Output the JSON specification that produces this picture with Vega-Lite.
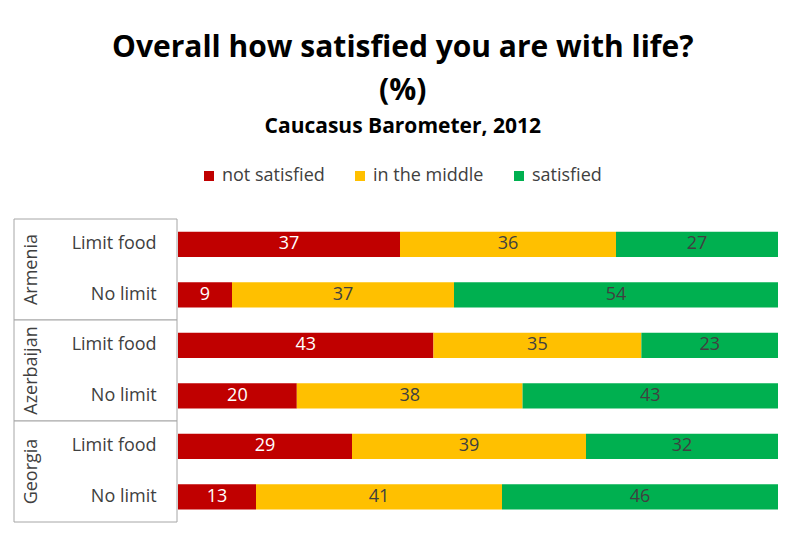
{
  "$schema": "https://vega.github.io/schema/vega-lite/v6.json",
  "background": "white",
  "padding": {"left": 13, "right": 23, "top": 33, "bottom": 22},
  "title": {
    "text": ["Overall how satisfied you are with life?", "(%)"],
    "subtitle": "Caucasus Barometer, 2012",
    "anchor": "middle",
    "dx": 7,
    "font": "Open Sans",
    "fontSize": 30,
    "fontWeight": "bold",
    "color": "black",
    "lineHeight": 43,
    "subtitleFont": "Open Sans",
    "subtitleFontSize": 21,
    "subtitleFontWeight": "bold",
    "subtitleColor": "black",
    "subtitlePadding": 10,
    "offset": 30
  },
  "data": {
    "values": [
      {"country": "Armenia", "group": "Limit food", "resp": "not satisfied", "pct": 37},
      {"country": "Armenia", "group": "Limit food", "resp": "in the middle", "pct": 36},
      {"country": "Armenia", "group": "Limit food", "resp": "satisfied", "pct": 27},
      {"country": "Armenia", "group": "No limit", "resp": "not satisfied", "pct": 9},
      {"country": "Armenia", "group": "No limit", "resp": "in the middle", "pct": 37},
      {"country": "Armenia", "group": "No limit", "resp": "satisfied", "pct": 54},
      {"country": "Azerbaijan", "group": "Limit food", "resp": "not satisfied", "pct": 43},
      {"country": "Azerbaijan", "group": "Limit food", "resp": "in the middle", "pct": 35},
      {"country": "Azerbaijan", "group": "Limit food", "resp": "satisfied", "pct": 23},
      {"country": "Azerbaijan", "group": "No limit", "resp": "not satisfied", "pct": 20},
      {"country": "Azerbaijan", "group": "No limit", "resp": "in the middle", "pct": 38},
      {"country": "Azerbaijan", "group": "No limit", "resp": "satisfied", "pct": 43},
      {"country": "Georgia", "group": "Limit food", "resp": "not satisfied", "pct": 29},
      {"country": "Georgia", "group": "Limit food", "resp": "in the middle", "pct": 39},
      {"country": "Georgia", "group": "Limit food", "resp": "satisfied", "pct": 32},
      {"country": "Georgia", "group": "No limit", "resp": "not satisfied", "pct": 13},
      {"country": "Georgia", "group": "No limit", "resp": "in the middle", "pct": 41},
      {"country": "Georgia", "group": "No limit", "resp": "satisfied", "pct": 46}
    ]
  },
  "spacing": 0,
  "hconcat": [
    {
      "width": 163,
      "height": 303,
      "transform": [{"filter": "datum.resp == 'satisfied'"}],
      "layer": [
        {
          "transform": [{"filter": "datum.group == 'Limit food'"}],
          "mark": {"type": "bar", "fill": "white", "stroke": "#a6a6a6", "strokeWidth": 1},
          "encoding": {
            "y": {"field": "country", "type": "nominal", "axis": null, "scale": {"type": "band", "paddingInner": 0, "paddingOuter": 0}},
            "x": {"datum": 1, "type": "quantitative", "scale": {"domain": [0, 1], "nice": false}, "axis": null}
          }
        },
        {
          "transform": [{"filter": "datum.group == 'Limit food'"}],
          "mark": {"type": "text", "angle": 270, "fontSize": 18, "color": "#404040", "font": "Open Sans"},
          "encoding": {
            "y": {"field": "country", "type": "nominal", "axis": null, "scale": {"type": "band", "paddingInner": 0, "paddingOuter": 0}},
            "x": {"datum": 0.11, "type": "quantitative", "scale": {"domain": [0, 1], "nice": false}, "axis": null},
            "text": {"field": "country"}
          }
        },
        {
          "mark": {"type": "text", "align": "right", "fontSize": 18, "color": "#404040", "font": "Open Sans"},
          "encoding": {
            "y": {"field": "country", "type": "nominal", "axis": null, "scale": {"type": "band", "paddingInner": 0, "paddingOuter": 0}},
            "yOffset": {"field": "group", "type": "nominal", "scale": {"type": "band", "paddingInner": 0, "paddingOuter": 0}},
            "x": {"datum": 0.875, "type": "quantitative", "scale": {"domain": [0, 1], "nice": false}, "axis": null},
            "text": {"field": "group"}
          }
        }
      ]
    },
    {
      "width": 600,
      "height": 303,
      "transform": [{"window": [{"op": "row_number", "as": "k"}], "groupby": ["country", "group"]}],
      "encoding": {
        "y": {"field": "country", "type": "nominal", "axis": null, "scale": {"type": "band", "paddingInner": 0, "paddingOuter": 0}},
        "yOffset": {"field": "group", "type": "nominal", "scale": {"type": "band", "paddingInner": 0.5, "paddingOuter": 0.25}},
        "order": {"field": "k", "type": "quantitative"}
      },
      "layer": [
        {
          "mark": {"type": "bar"},
          "encoding": {
            "x": {"field": "pct", "type": "quantitative", "stack": "normalize", "axis": null, "scale": {"nice": false}},
            "color": {
              "field": "resp",
              "type": "nominal",
              "sort": ["not satisfied", "in the middle", "satisfied"],
              "scale": {"domain": ["not satisfied", "in the middle", "satisfied"], "range": ["#C00000", "#FFC000", "#00B050"]},
              "legend": {
                "orient": "none",
                "legendX": 22,
                "legendY": -52,
                "direction": "horizontal",
                "title": null,
                "symbolType": "square",
                "symbolSize": 100,
                "labelFontSize": 18,
                "labelFont": "Open Sans",
                "labelColor": "#404040",
                "columnPadding": 26,
                "symbolStrokeWidth": 0
              }
            }
          }
        },
        {
          "mark": {"type": "text", "fontSize": 18, "font": "Open Sans"},
          "encoding": {
            "x": {"field": "pct", "type": "quantitative", "stack": "normalize", "bandPosition": 0.5, "axis": null},
            "text": {"field": "pct", "type": "quantitative"},
            "color": {
              "field": "resp",
              "type": "nominal",
              "sort": ["not satisfied", "in the middle", "satisfied"],
              "scale": {"domain": ["not satisfied", "in the middle", "satisfied"], "range": ["white", "#404040", "#404040"]},
              "legend": null
            }
          }
        }
      ],
      "resolve": {"scale": {"color": "independent"}}
    }
  ],
  "resolve": {"scale": {"y": "independent", "yOffset": "independent", "x": "independent", "color": "independent"}},
  "config": {
    "view": {"stroke": null},
    "font": "Open Sans"
  }
}
